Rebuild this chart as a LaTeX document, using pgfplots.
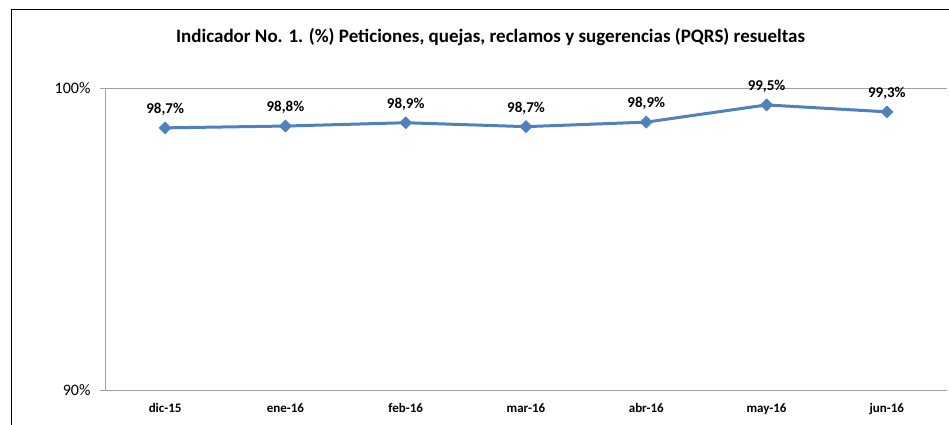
\documentclass[border=0pt]{standalone}
\usepackage{pgfplots}
\pgfplotsset{compat=1.18}
\usepackage{fontspec}
\setmainfont{Carlito}
\definecolor{lineblue}{HTML}{4F81BD}
\definecolor{axgray}{HTML}{A0A0A0}
\begin{document}
\begin{tikzpicture}[x=1pt,y=1pt]
\useasboundingbox (0,0) rectangle (949,425);
\draw[black, line width=1pt] (11,0) -- (11,415) -- (949,415);
\begin{axis}[
  at={(105pt,35pt)}, anchor=south west,
  scale only axis, width=842pt, height=302pt,
  xmin=-0.5, xmax=6.5, ymin=90, ymax=100,
  axis x line*=bottom, axis y line*=left,
  axis line style={axgray, line width=0.8pt},
  xtick={0,...,6},
  xticklabels={dic-15,ene-16,feb-16,mar-16,abr-16,may-16,jun-16},
  x tick label style={font=\fontsize{13}{15}\selectfont\bfseries, yshift=-5pt},
  major x tick style={draw=none},
  extra x ticks={-0.5,0.5,1.5,2.5,3.5,4.5,5.5,6.5},
  extra x tick labels={},
  extra x tick style={tick align=outside, major tick length=5pt, tick style={axgray, line width=0.8pt}},
  ytick={90,100},
  yticklabels={90\%,100\%},
  y tick label style={font=\fontsize{16}{18}\selectfont, xshift=-6pt},
  tick align=outside, major tick length=5pt,
  y tick style={axgray, line width=0.8pt},
  ymajorgrids, grid style={axgray, line width=0.8pt},
  /pgf/number format/assume math mode=true,
  title={Indicador No. 1. (\%) Peticiones, quejas, reclamos y sugerencias (PQRS) resueltas},
  title style={at={(axis description cs:0.458,1.15)}, anchor=center, font=\fontsize{19}{21}\selectfont\bfseries},
  clip=false,
]
\addplot[color=lineblue, line width=3pt, mark=square*, mark size=4.3pt,
  mark options={rotate=45, fill=lineblue, draw=lineblue, line width=0.5pt},
  point meta=explicit symbolic,
  nodes near coords={\pgfplotspointmeta\%},
  every node near coord/.append style={font=\fontsize{15}{17}\selectfont\bfseries, anchor=south, yshift=12pt, inner sep=0pt, text=black}]
table[x=x, y=y, meta=lab] {
x y lab
0 98.68 98,7
1 98.74 98,8
2 98.85 98,9
3 98.72 98,7
4 98.87 98,9
5 99.44 99,5
6 99.21 99,3
};
\end{axis}
\end{tikzpicture}
\end{document}
